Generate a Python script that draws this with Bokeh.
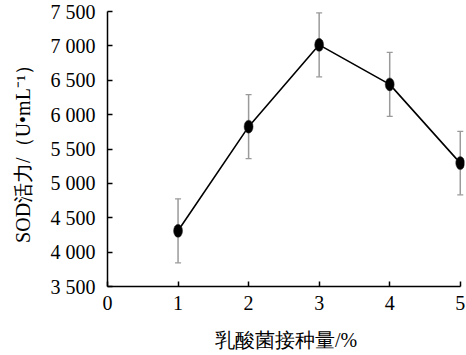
from bokeh.plotting import figure
from bokeh.models import Range1d, FixedTicker, Whisker, ColumnDataSource, TeeHead
from bokeh.embed import file_html
from bokeh.resources import INLINE

# data
inoculum = [1, 2, 3, 4, 5]
sod = [4310, 5825, 7015, 6440, 5295]
err = [465, 465, 465, 465, 462]
y_ticks = [3500, 4000, 4500, 5000, 5500, 6000, 6500, 7000, 7500]
y_tick_labels = ["3 500", "4 000", "4 500", "5 000", "5 500", "6 000", "6 500", "7 000", "7 500"]
x_ticks = [0, 1, 2, 3, 4, 5]
x_label = "乳酸菌接种量/%"
y_label = "SOD活力/（U•mL⁻¹）"

FONT = "Liberation Serif"

src = ColumnDataSource(dict(
    x=inoculum, y=sod,
    lo=[v - e for v, e in zip(sod, err)],
    hi=[v + e for v, e in zip(sod, err)],
))

p = figure(width=466, height=355, output_backend="svg", toolbar_location=None,
           x_range=Range1d(0, 5.06), y_range=Range1d(3500, 7500),
           min_border_left=107, min_border_right=2, min_border_top=11, min_border_bottom=69)
p.outline_line_color = None
p.xgrid.visible = False
p.ygrid.visible = False
p.background_fill_color = "white"
p.border_fill_color = "white"

w = Whisker(source=src, base="x", lower="lo", upper="hi", line_color="#9a9a9a", line_width=1.5,
            lower_head=TeeHead(size=6, line_color="#9a9a9a", line_width=1.2),
            upper_head=TeeHead(size=6, line_color="#9a9a9a", line_width=1.2))
p.add_layout(w)

p.line("x", "y", source=src, line_color="black", line_width=1.6)
p.ellipse("x", "y", width=9, height=13, width_units="screen", height_units="screen",
          source=src, fill_color="black", line_color="#333333", line_width=0.5)

for ax in (p.xaxis[0], p.yaxis[0]):
    ax.axis_line_color = "black"
    ax.axis_line_width = 1.5
    ax.major_tick_line_color = "black"
    ax.major_tick_line_width = 1.5
    ax.major_tick_in = 5
    ax.major_tick_out = 0
    ax.minor_tick_line_color = None
    ax.major_label_text_font = FONT
    ax.major_label_text_font_size = "20px"
    ax.major_label_text_color = "black"
    ax.axis_label_text_font = FONT
    ax.axis_label_text_font_size = "20px"
    ax.axis_label_text_font_style = "normal"
    ax.axis_label_text_color = "black"

p.xaxis[0].ticker = FixedTicker(ticks=x_ticks)
p.xaxis[0].bounds = (0, 5)
p.xaxis[0].major_label_standoff = 9
p.xaxis[0].axis_label = x_label
p.xaxis[0].axis_label_standoff = 16

p.yaxis[0].ticker = FixedTicker(ticks=y_ticks)
p.yaxis[0].major_label_overrides = {t: l for t, l in zip(y_ticks, y_tick_labels)}
p.yaxis[0].major_label_standoff = 12
p.yaxis[0].axis_label = y_label
p.yaxis[0].axis_label_standoff = 14

open("out.html", "w").write(file_html(p, INLINE))
